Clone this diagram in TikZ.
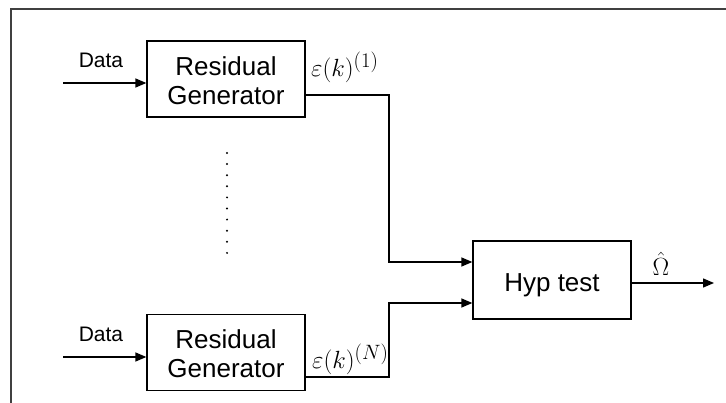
\documentclass[tikz,border=0pt]{standalone}
\usepackage{fontspec}
\setmainfont{Liberation Sans}
\usetikzlibrary{arrows.meta}
\newcommand{\dropby}[2]{\raisebox{-#1}[\height][\depth]{#2}}
\begin{document}
\begin{tikzpicture}[x=1pt,y=-1pt,
  blk/.style={draw, line width=1.3pt, minimum width=158pt, minimum height=76pt, align=center, inner sep=0pt, font=\fontsize{26}{29}\selectfont},
  arr/.style={line width=1.3pt, -{Triangle[length=11pt,width=9pt]}},
  lbl/.style={font=\fontsize{21}{24}\selectfont, inner sep=0pt},
  mlbl/.style={font=\fontsize{29}{33}\selectfont, inner sep=0pt}]
\useasboundingbox (0,0) rectangle (726,403);
\draw[line width=2pt, draw=black!75] (11,403) -- (11,9) -- (726,9);
% blocks
\node[blk] (rg1) at (226,79) {\dropby{5pt}{\begin{tabular}{@{}c@{}}Residual\\Generator\end{tabular}}};
\node[blk] (rg2) at (226,352.5) {\dropby{5pt}{\begin{tabular}{@{}c@{}}Residual\\Generator\end{tabular}}};
\node[blk, minimum height=78pt] (hyp) at (552,280) {\dropby{5pt}{Hyp test}};
% data inputs
\coordinate (d1) at (63,83);
\coordinate (d2) at (63,357);
\draw[arr] (d1) -- (d1 -| rg1.west);
\draw[arr] (d2) -- (d2 -| rg2.west);
\node[lbl, anchor=base] (dl1) at (101,68) {Data};
\node[lbl, anchor=base] (dl2) at (101,342) {Data};
% residual labels
\node[mlbl, anchor=base west] (e1) at (311,77) {$\varepsilon(k)^{(1)}$};
\node[mlbl, anchor=base west] (e2) at (312,369) {$\varepsilon(k)^{(N)}$};
% residual wires
\coordinate (j1) at (389,95);
\coordinate (k1) at (389,262);
\coordinate (j2) at (389,377);
\coordinate (k2) at (389,303);
\draw[arr] (j1 -| rg1.east) -- (j1) -- (k1) -- (k1 -| hyp.west);
\draw[arr] (j2 -| rg2.east) -- (j2) -- (k2) -- (k2 -| hyp.west);
% output
\coordinate (o) at (714,283);
\draw[arr] (hyp.east |- o) -- (o);
\node[mlbl, anchor=base] (om) at (661,276) {$\hat\Omega$};
% dots
\foreach \i in {0,...,9} \fill (227,153+11.1*\i) circle (1.1pt);
\end{tikzpicture}
\end{document}
